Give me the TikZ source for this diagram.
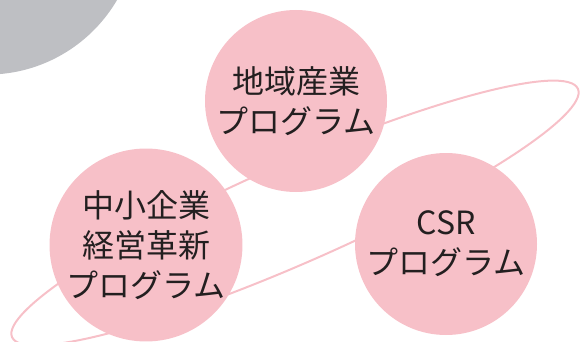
\documentclass[tikz,border=0pt]{standalone}
\usepackage{fontspec}
\newfontfamily\jpfont{Noto Sans CJK JP}
\definecolor{bubblepink}{HTML}{F7C0C8}
\definecolor{greyblob}{HTML}{BEBFC3}
\definecolor{textdark}{HTML}{231F20}
\begin{document}
\begin{tikzpicture}[x=1pt,y=-1pt,
  bubble/.style={circle, fill=bubblepink, minimum size=182pt, inner sep=0pt,
    align=center, text=textdark, font=\jpfont\fontsize{32}{40}\selectfont},
  orbit/.style={draw=bubblepink, line width=2pt}]
\useasboundingbox (0,0) rectangle (580,342);
\begin{scope}
\clip (0,0) rectangle (580,342);
\fill[greyblob] (-13,-76) circle (150.6pt);
\draw[orbit, rotate around={23.7:(295,213)}] (295,213) ellipse [x radius=309pt, y radius=50pt];
\end{scope}
\node[bubble] (chiiki) at (296,101) {地域産業\\プログラム};
\node[bubble] (chusho) at (146,245) {中小企業\\経営革新\\プログラム};
\node[bubble] (csr) at (446,244) {CSR\\プログラム};
\end{tikzpicture}
\end{document}
